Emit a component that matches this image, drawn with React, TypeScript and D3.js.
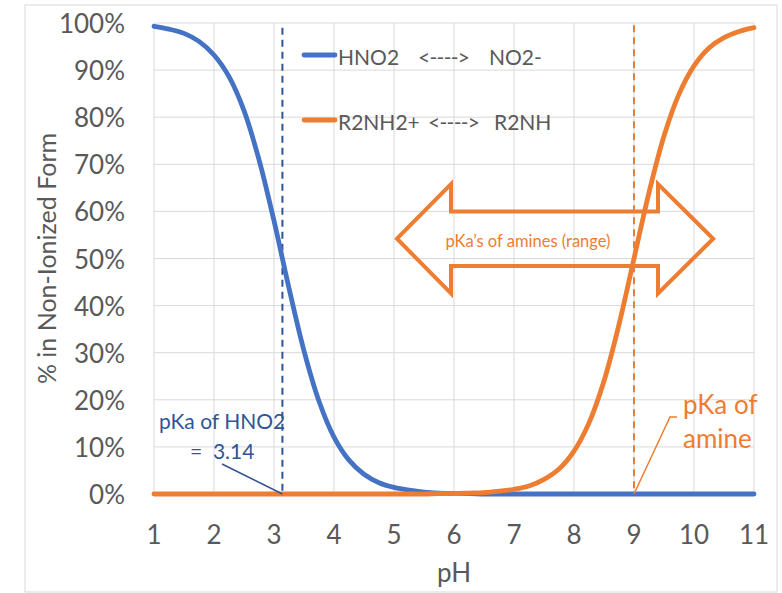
import React from "react";
import * as d3 from "d3";

const pH = d3.range(0, 41).map((i) => 1 + i * 0.25);
const hno2Pct = [
  99.3, 98.7, 97.8, 96.1, 93.2, 88.6, 81.4, 71.0, 58.0, 43.7, 30.4, 19.7, 12.1, 7.2, 4.2, 2.4,
  1.4, 0.8, 0.4, 0.2, 0.1, 0.1, 0, 0, 0, 0, 0, 0, 0, 0, 0, 0, 0, 0, 0, 0, 0, 0, 0, 0, 0,
];
const aminePct = [
  0, 0, 0, 0, 0, 0, 0, 0, 0, 0, 0, 0, 0, 0, 0, 0, 0, 0, 0, 0.1, 0.1, 0.2, 0.3, 0.6, 1.0, 1.7,
  3.1, 5.3, 9.1, 15.1, 24.0, 36.0, 50.0, 64.0, 76.0, 84.9, 90.9, 94.7, 96.9, 98.2, 99.0,
];
const xTicks = [1, 2, 3, 4, 5, 6, 7, 8, 9, 10, 11];
const yTicks = [0, 10, 20, 30, 40, 50, 60, 70, 80, 90, 100];
const pKaHNO2 = 3.14;
const pKaAmine = 9;
// block arrow (range of amine pKa's), in data units
const arrowTips = [5.05, 10.32];
const arrowHeadBase = [5.95, 9.4];
const arrowCenterPct = 54.2;
const arrowHeadHalf = 11.6;
const arrowShaftHalf = 5.8;

const BLUE = "#4472C4";
const ORANGE = "#ED7D31";
const DARKBLUE = "#2F5597";
const GRAY = "#595959";
const FONT = "Lato, 'Open Sans', sans-serif";

export default function App() {
  const x = d3.scaleLinear().domain([1, 11]).range([154, 754]);
  const y = d3.scaleLinear().domain([0, 100]).range([494, 23]);
  const line = d3
    .line<number>()
    .x((_, i) => x(pH[i]))
    .y((d) => y(d))
    .curve(d3.curveCatmullRom);

  const arrowPts: [number, number][] = [
    [x(arrowTips[0]), y(arrowCenterPct)],
    [x(arrowHeadBase[0]), y(arrowCenterPct + arrowHeadHalf)],
    [x(arrowHeadBase[0]), y(arrowCenterPct + arrowShaftHalf)],
    [x(arrowHeadBase[1]), y(arrowCenterPct + arrowShaftHalf)],
    [x(arrowHeadBase[1]), y(arrowCenterPct + arrowHeadHalf)],
    [x(arrowTips[1]), y(arrowCenterPct)],
    [x(arrowHeadBase[1]), y(arrowCenterPct - arrowHeadHalf)],
    [x(arrowHeadBase[1]), y(arrowCenterPct - arrowShaftHalf)],
    [x(arrowHeadBase[0]), y(arrowCenterPct - arrowShaftHalf)],
    [x(arrowHeadBase[0]), y(arrowCenterPct - arrowHeadHalf)],
  ];

  return (
    <svg
      width={782}
      height={593}
      style={{ position: "absolute", left: 0, top: 0, background: "#fff" }}
      fontFamily={FONT}
    >
      <rect x={25} y={5} width={752} height={587} fill="#fff" stroke="#D9D9D9" strokeWidth={1} />
      {/* gridlines */}
      {yTicks.map((t) => (
        <line key={"gy" + t} x1={x(1)} x2={x(11)} y1={y(t)} y2={y(t)} stroke="#D9D9D9" strokeWidth={1} />
      ))}
      {xTicks.map((t) => (
        <line key={"gx" + t} x1={x(t)} x2={x(t)} y1={y(0)} y2={y(100)} stroke="#D9D9D9" strokeWidth={1} />
      ))}
      {/* tick labels */}
      {yTicks.map((t) => (
        <text key={"ty" + t} x={125} y={y(t)} textAnchor="end" dominantBaseline="central" fontSize={26} fill={GRAY}>
          {t + "%"}
        </text>
      ))}
      {xTicks.map((t) => (
        <text key={"tx" + t} x={x(t)} y={534} textAnchor="middle" dominantBaseline="central" fontSize={26} fill={GRAY}>
          {t}
        </text>
      ))}
      <text x={x(6)} y={572} textAnchor="middle" dominantBaseline="central" fontSize={26} fill={GRAY}>
        pH
      </text>
      <text
        transform={`translate(46,${(y(0) + y(100)) / 2}) rotate(-90)`}
        textAnchor="middle"
        dominantBaseline="central"
        fontSize={25}
        fill={GRAY}
      >
        % in Non-Ionized Form
      </text>

      {/* block arrow */}
      <polygon points={arrowPts.map((p) => p.join(",")).join(" ")} fill="none" stroke={ORANGE} strokeWidth={4} strokeLinejoin="miter" />
      <text x={528} y={241} textAnchor="middle" dominantBaseline="central" fontSize={16.5} fill={ORANGE}>
        pKa’s of amines (range)
      </text>

      {/* pKa dashed lines */}
      <line x1={x(pKaHNO2)} x2={x(pKaHNO2)} y1={y(99)} y2={y(0)} stroke={DARKBLUE} strokeWidth={2} strokeDasharray="7,5" />
      <line x1={x(pKaAmine)} x2={x(pKaAmine)} y1={y(99.5)} y2={y(0)} stroke={ORANGE} strokeWidth={2} strokeDasharray="7,5" />

      {/* series */}
      <path d={line(hno2Pct) || ""} fill="none" stroke={BLUE} strokeWidth={4.8} strokeLinecap="round" strokeLinejoin="round" />
      <path d={line(aminePct) || ""} fill="none" stroke={ORANGE} strokeWidth={4.8} strokeLinecap="round" strokeLinejoin="round" />

      {/* legend */}
      <line x1={304} x2={335} y1={55} y2={55} stroke={BLUE} strokeWidth={4.8} strokeLinecap="round" />
      <text x={338} y={56} dominantBaseline="central" fontSize={21} fill={GRAY}>HNO2</text>
      <text x={418} y={56} dominantBaseline="central" fontSize={21} fill={GRAY} textLength={52} lengthAdjust="spacing">{"<---->"}</text>
      <text x={489} y={56} dominantBaseline="central" fontSize={21} fill={GRAY}>NO2-</text>
      <line x1={304} x2={335} y1={120} y2={120} stroke={ORANGE} strokeWidth={4.8} strokeLinecap="round" />
      <text x={338} y={121} dominantBaseline="central" fontSize={21} fill={GRAY}>R2NH2+</text>
      <text x={428} y={121} dominantBaseline="central" fontSize={21} fill={GRAY} textLength={52} lengthAdjust="spacing">{"<---->"}</text>
      <text x={494} y={121} dominantBaseline="central" fontSize={21} fill={GRAY}>R2NH</text>

      {/* annotations */}
      <line x1={222} y1={464} x2={x(pKaHNO2)} y2={y(0)} stroke={DARKBLUE} strokeWidth={1.5} />
      <text x={159} y={420} dominantBaseline="central" fontSize={21} fill={DARKBLUE}>pKa of HNO2</text>
      <text x={190} y={450} dominantBaseline="central" fontSize={21} fill={DARKBLUE} style={{ whiteSpace: "pre" }}>{"=  3.14"}</text>
      <polyline points={`${x(pKaAmine)},${y(0)} 670,417 677,417`} fill="none" stroke={ORANGE} strokeWidth={1.5} />
      <text x={683} y={404} dominantBaseline="central" fontSize={26} fill={ORANGE}>pKa of</text>
      <text x={683} y={438} dominantBaseline="central" fontSize={26} fill={ORANGE}>amine</text>
    </svg>
  );
}
